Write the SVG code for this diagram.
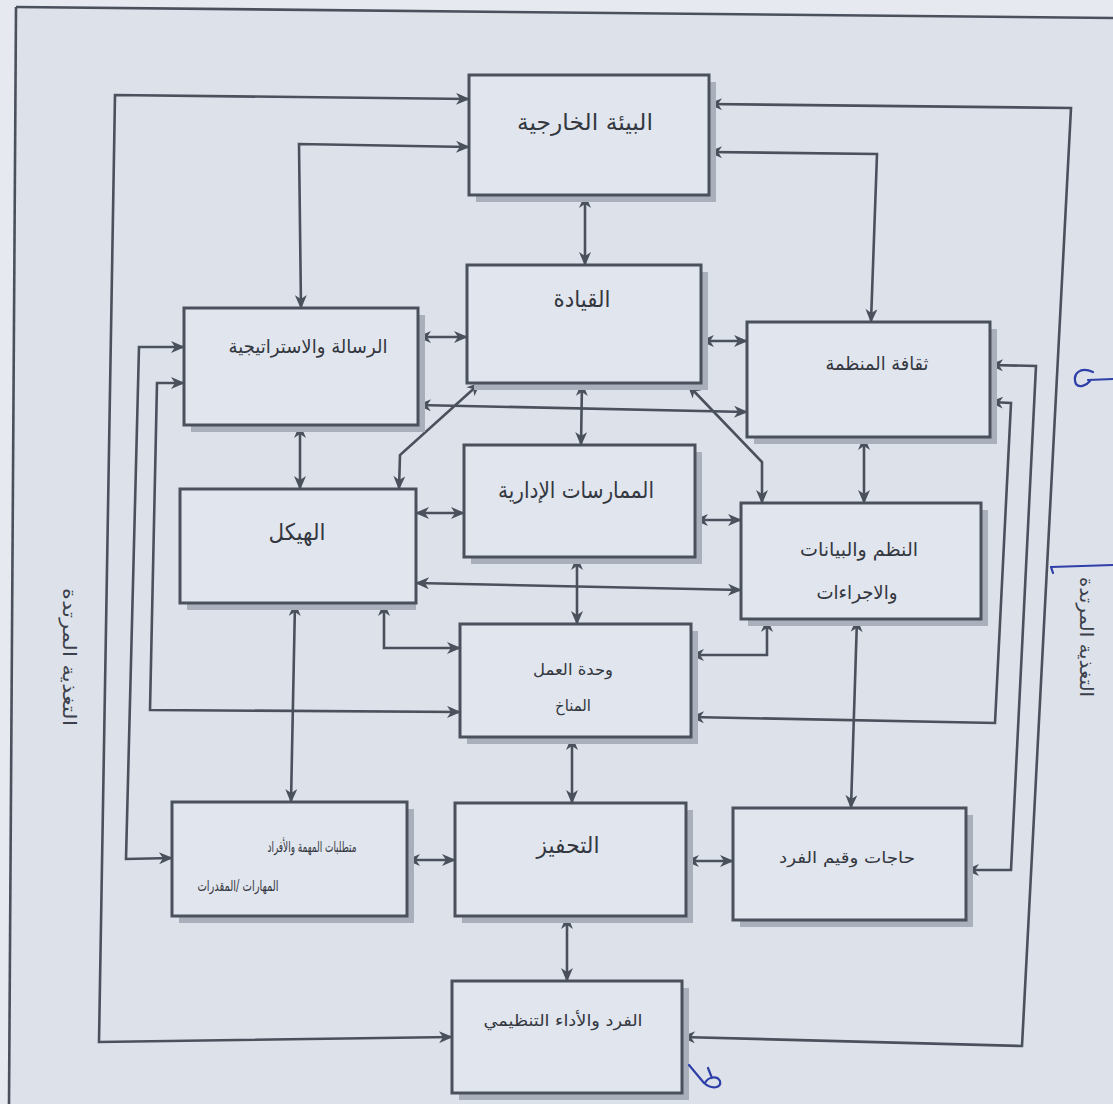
<svg xmlns="http://www.w3.org/2000/svg" width="1113" height="1104" viewBox="0 0 1113 1104">
<defs>
<style>
.box{fill:#e1e5ed;stroke:#4a505c;stroke-width:3}
.sh{fill:#aab0bb}
.lbl{font-family:"DejaVu Sans","Noto Sans",sans-serif;font-size:23px;fill:#33373f;text-anchor:middle}
.md{font-size:19px}
.sm{font-size:16px}
.xs{font-size:15px}
.fb{font-family:"DejaVu Sans","Noto Sans",sans-serif;font-size:18px;fill:#3b404b;text-anchor:middle}
.c{fill:none;stroke:#4a505c;stroke-width:2.6;marker-start:url(#ah);marker-end:url(#ah)}
.c1{fill:none;stroke:#4a505c;stroke-width:2.6}
.blue{fill:none;stroke:#2f3fa8;stroke-width:2.2;stroke-linecap:round;stroke-linejoin:round}
</style>
<marker id="ah" viewBox="0 0 14 12" refX="13" refY="6" markerWidth="15" markerHeight="12" markerUnits="userSpaceOnUse" orient="auto-start-reverse">
<path d="M0,0 L14,6 L0,12 L4,6 z" fill="#4a505c"/>
</marker>
</defs>
<rect x="0" y="0" width="1113" height="1104" fill="#e6e9f0"/>
<polygon points="16,7 1113,18 1113,1104 9,1104" fill="#dde2ea"/>
<g id="page-border">
<path class="c1" d="M16,7 L1113,18"/>
<path class="c1" d="M16,7 L9,1104"/>
</g>

<g id="connectors">
<path class="c" d="M452,1037 L99,1042 L115,95 L469,99"/>
<path class="c" d="M709,104 L1071,108 L1022,1046 L682,1037"/>
<path class="c" d="M301,308 L299,144 L469,147"/>
<path class="c" d="M709,152 L877,154 L871,322"/>
<path class="c" d="M585,195 L585,265"/>
<path class="c" d="M418,337 L467,337"/>
<path class="c" d="M701,341 L747,341"/>
<path class="c" d="M418,405 L747,412"/>
<path class="c" d="M480,383 L400,455 L399,489"/>
<path class="c" d="M688,385 L762,462 L762,503"/>
<path class="c" d="M582,383 L581,445"/>
<path class="c" d="M300,425 L300,489"/>
<path class="c" d="M864,437 L864,503"/>
<path class="c" d="M416,513 L464,513"/>
<path class="c" d="M695,520 L741,520"/>
<path class="c" d="M416,583 L741,590"/>
<path class="c" d="M384,603 L384,648 L460,648"/>
<path class="c" d="M767,619 L767,655 L691,655"/>
<path class="c" d="M577,557 L577,624"/>
<path class="c" d="M184,383 L157,383 L150,710 L460,712"/>
<path class="c" d="M184,347 L139,347 L126,859 L172,858"/>
<path class="c" d="M990,365 L1036,366 L1011,870 L966,870"/>
<path class="c" d="M990,402 L1011,403 L995,723 L691,717"/>
<path class="c" d="M295,603 L291,802"/>
<path class="c" d="M572,737 L572,803"/>
<path class="c" d="M857,619 L851,808"/>
<path class="c" d="M407,860 L455,860"/>
<path class="c" d="M686,861 L733,861"/>
<path class="c" d="M567,916 L567,981"/>
</g>

<g id="n-external">
<rect class="sh" x="476" y="82" width="240" height="120"/>
<rect class="box" x="469" y="75" width="240" height="120"/>
<text class="lbl" x="585" y="130" direction="rtl" textLength="136" lengthAdjust="spacingAndGlyphs">البيئة الخارجية</text>
</g>
<g id="n-leadership">
<rect class="sh" x="474" y="272" width="234" height="118"/>
<rect class="box" x="467" y="265" width="234" height="118"/>
<text class="lbl" x="582" y="307" direction="rtl" textLength="57" lengthAdjust="spacingAndGlyphs">القيادة</text>
</g>
<g id="n-mission">
<rect class="sh" x="191" y="315" width="234" height="117"/>
<rect class="box" x="184" y="308" width="234" height="117"/>
<text class="lbl md" x="308" y="353" direction="rtl" textLength="159" lengthAdjust="spacingAndGlyphs">الرسالة والاستراتيجية</text>
</g>
<g id="n-culture">
<rect class="sh" x="754" y="329" width="243" height="115"/>
<rect class="box" x="747" y="322" width="243" height="115"/>
<text class="lbl md" x="877" y="370" direction="rtl" textLength="103" lengthAdjust="spacingAndGlyphs">ثقافة المنظمة</text>
</g>
<g id="n-structure">
<rect class="sh" x="187" y="496" width="229" height="114"/>
<rect class="box" x="180" y="489" width="236" height="114"/>
<text class="lbl" x="297" y="540" direction="rtl" textLength="57" lengthAdjust="spacingAndGlyphs">الهيكل</text>
</g>
<g id="n-practices">
<rect class="sh" x="471" y="452" width="231" height="112"/>
<rect class="box" x="464" y="445" width="231" height="112"/>
<text class="lbl" x="576" y="498" direction="rtl" textLength="156" lengthAdjust="spacingAndGlyphs">الممارسات الإدارية</text>
</g>
<g id="n-systems">
<rect class="sh" x="748" y="510" width="240" height="116"/>
<rect class="box" x="741" y="503" width="240" height="116"/>
<text class="lbl md" x="859" y="556" direction="rtl" textLength="118" lengthAdjust="spacingAndGlyphs">النظم والبيانات</text>
<text class="lbl md" x="857" y="599" direction="rtl" textLength="81" lengthAdjust="spacingAndGlyphs">والاجراءات</text>
</g>
<g id="n-climate">
<rect class="sh" x="467" y="631" width="231" height="113"/>
<rect class="box" x="460" y="624" width="231" height="113"/>
<text class="lbl sm" x="573" y="675" direction="rtl" textLength="80" lengthAdjust="spacingAndGlyphs">وحدة العمل</text>
<text class="lbl sm" x="573" y="711" direction="rtl" textLength="36" lengthAdjust="spacingAndGlyphs">المناخ</text>
</g>
<g id="n-task">
<rect class="sh" x="179" y="809" width="235" height="114"/>
<rect class="box" x="172" y="802" width="235" height="114"/>
<text class="lbl xs" x="312" y="852" direction="rtl" textLength="89" lengthAdjust="spacingAndGlyphs">متطلبات المهمة والأفراد</text>
<text class="lbl xs" x="238" y="891" direction="rtl" textLength="81" lengthAdjust="spacingAndGlyphs">المهارات /المقدرات</text>
</g>
<g id="n-motivation">
<rect class="sh" x="462" y="810" width="231" height="113"/>
<rect class="box" x="455" y="803" width="231" height="113"/>
<text class="lbl" x="568" y="853" direction="rtl" textLength="63" lengthAdjust="spacingAndGlyphs">التحفيز</text>
</g>
<g id="n-needs">
<rect class="sh" x="740" y="815" width="233" height="112"/>
<rect class="box" x="733" y="808" width="233" height="112"/>
<text class="lbl sm" x="847" y="863" direction="rtl" textLength="136" lengthAdjust="spacingAndGlyphs">حاجات وقيم الفرد</text>
</g>
<g id="n-performance">
<rect class="sh" x="459" y="988" width="230" height="112"/>
<rect class="box" x="452" y="981" width="230" height="112"/>
<text class="lbl sm" x="563" y="1026" direction="rtl" textLength="159" lengthAdjust="spacingAndGlyphs">الفرد والأداء التنظيمي</text>
</g>

<g id="feedback-labels">
<text class="fb" transform="translate(63,657) rotate(90)" direction="rtl" textLength="138" lengthAdjust="spacingAndGlyphs">التغذية المرتدة</text>
<text class="fb" transform="translate(1080,637) rotate(90)" direction="rtl" textLength="120" lengthAdjust="spacingAndGlyphs">التغذية المرتدة</text>
</g>

<g id="handwriting">
<path class="blue" d="M1113,379 L1088,380 M1093,372 C1080,366 1072,374 1076,384 C1079,388 1086,386 1090,381"/>
<path class="blue" d="M1053,573 L1051,567 L1113,565"/>
<path class="blue" d="M689,1065 L704,1083 C712,1090 722,1088 720,1081 C717,1075 708,1077 705,1083 M708,1068 L712,1078"/>
</g>
</svg>
